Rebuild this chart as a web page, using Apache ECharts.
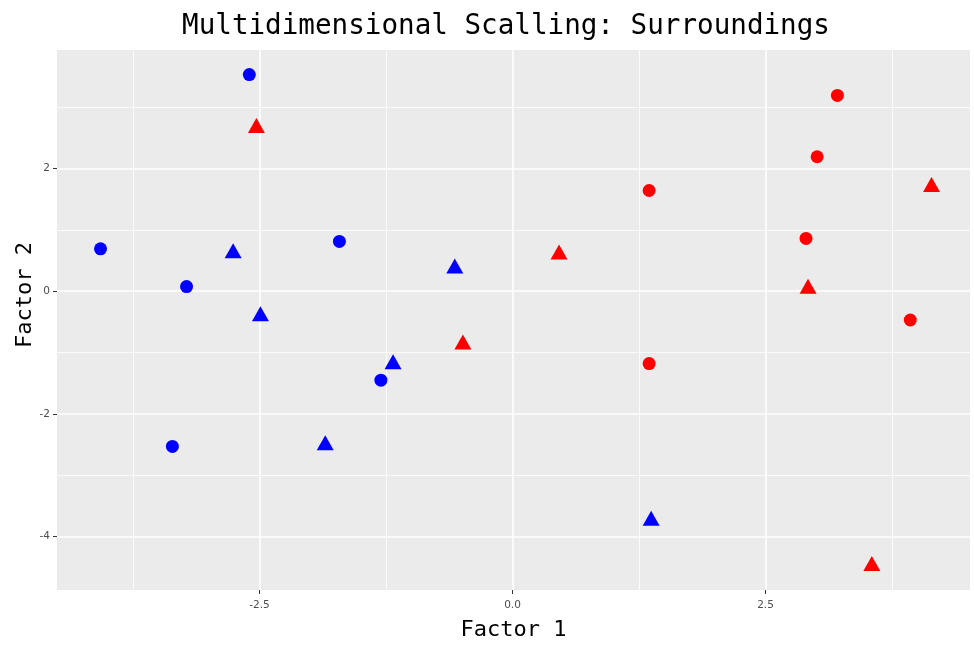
<!DOCTYPE html>
<html>
<head>
<meta charset="utf-8">
<script src="https://cdn.jsdelivr.net/npm/echarts@6/dist/echarts.min.js"></script>
<style>html,body{margin:0;padding:0;background:#fff}#c{width:974px;height:646px}</style>
</head>
<body>
<div id="c"></div>
<script>
// Data: [Factor 1, Factor 2]
const blueCircles = [[-2.60, 3.53], [-4.07, 0.69], [-1.71, 0.81], [-3.22, 0.075], [-1.30, -1.45], [-3.36, -2.53]];
const blueTriangles = [[-2.76, 0.66], [-0.57, 0.41], [-2.49, -0.37], [-1.18, -1.15], [-1.85, -2.47], [1.37, -3.70]];
const redCircles = [[3.21, 3.19], [3.01, 2.19], [1.35, 1.64], [2.90, 0.86], [3.93, -0.47], [1.35, -1.18]];
const redTriangles = [[-2.53, 2.70], [4.14, 1.74], [0.46, 0.64], [2.92, 0.08], [-0.49, -0.83], [3.55, -4.44]];

const xTicks = [-2.5, 0, 2.5];
const xTickLabels = ['-2.5', '0.0', '2.5'];
const xMinor = [-3.75, -1.25, 1.25, 3.75];
const yTicks = [-4, -2, 0, 2];
const yTickLabels = ['-4', '-2', '0', '2'];
const yMinor = [-3, -1, 1, 3];
const xLimits = [-4.50, 4.52];
const yLimits = [-4.87, 3.93];

const chart = echarts.init(document.getElementById('c'));

const gridLines = [];
xMinor.forEach(v => gridLines.push({xAxis: v, lineStyle: {color: '#ffffff', width: 0.8, type: 'solid'}}));
yMinor.forEach(v => gridLines.push({yAxis: v, lineStyle: {color: '#ffffff', width: 0.8, type: 'solid'}}));
xTicks.forEach(v => gridLines.push({xAxis: v, lineStyle: {color: '#ffffff', width: 1.6, type: 'solid'}}));
yTicks.forEach(v => gridLines.push({yAxis: v, lineStyle: {color: '#ffffff', width: 1.6, type: 'solid'}}));

function fmt(vals, labels) {
  return function (v) {
    for (let i = 0; i < vals.length; i++) if (Math.abs(vals[i] - v) < 1e-6) return labels[i];
    return '';
  };
}

const pointSeries = (name, data, color, symbol, size) => ({
  name: name, type: 'scatter', data: data, symbol: symbol, symbolSize: size, z: 10,
  itemStyle: {color: color, opacity: 1}, silent: true
});

chart.setOption({
  animation: false,
  backgroundColor: '#ffffff',
  title: {
    text: 'Multidimensional Scalling: Surroundings',
    left: 501, top: 8, textAlign: 'center',
    textStyle: {fontFamily: 'DejaVu Sans Mono', fontSize: 27.6, fontWeight: 'normal', color: '#000000'}
  },
  grid: {left: 57, right: 4, top: 50, bottom: 53, show: true, backgroundColor: '#EBEBEB', borderWidth: 0},
  xAxis: {
    type: 'value', min: xLimits[0], max: xLimits[1],
    name: 'Factor 1', nameLocation: 'middle', nameGap: 29,
    nameTextStyle: {fontFamily: 'DejaVu Sans Mono', fontSize: 22, color: '#000000'},
    axisLine: {show: false, onZero: false},
    axisTick: {show: true, inside: false, length: 4, customValues: xTicks, lineStyle: {color: '#333333', width: 1}},
    axisLabel: {customValues: xTicks, formatter: fmt(xTicks, xTickLabels), margin: 10,
      fontFamily: 'DejaVu Sans', fontSize: 10.5, color: '#4D4D4D'},
    splitLine: {show: false}
  },
  yAxis: {
    type: 'value', min: yLimits[0], max: yLimits[1],
    axisLine: {show: false, onZero: false},
    axisTick: {show: true, inside: false, length: 4, customValues: yTicks, lineStyle: {color: '#333333', width: 1}},
    axisLabel: {customValues: yTicks, formatter: fmt(yTicks, yTickLabels), margin: 7,
      fontFamily: 'DejaVu Sans', fontSize: 10.5, color: '#4D4D4D'},
    splitLine: {show: false}
  },
  graphic: [{
    type: 'text', x: 25, y: 295, rotation: Math.PI / 2,
    style: {text: 'Factor 2', align: 'center', verticalAlign: 'middle',
      font: '22px "DejaVu Sans Mono"', fill: '#000000'}
  }],
  series: [
    {type: 'line', data: [], silent: true, z: 1,
      markLine: {silent: true, symbol: 'none', z: 1, animation: false, label: {show: false}, data: gridLines}},
    pointSeries('blue circle', blueCircles, '#0000FF', 'circle', 13),
    pointSeries('blue triangle', blueTriangles, '#0000FF', 'triangle', [17, 15]),
    pointSeries('red circle', redCircles, '#FF0000', 'circle', 13),
    pointSeries('red triangle', redTriangles, '#FF0000', 'triangle', [17, 15])
  ]
});
</script>
</body>
</html>
